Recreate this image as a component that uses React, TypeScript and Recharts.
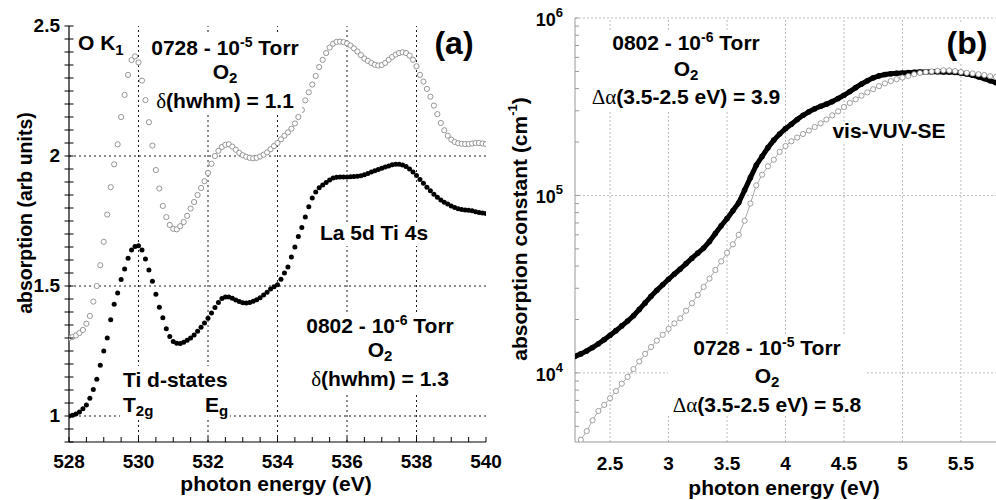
import React from "react";
import { LineChart, Line, XAxis, YAxis, ReferenceLine } from "recharts";

const FONT = '"Liberation Sans", Arial, Helvetica, sans-serif';

// ---- panel (a): O K-edge absorption ----
const xasEnergy = [
  528.0, 528.1, 528.2, 528.3, 528.4, 528.5, 528.6, 528.7, 528.8, 528.9,
  529.0, 529.1, 529.2, 529.3, 529.4, 529.5, 529.6, 529.7, 529.8, 529.9,
  530.0, 530.1, 530.2, 530.3, 530.4, 530.5, 530.6, 530.7, 530.8, 530.9,
  531.0, 531.1, 531.2, 531.3, 531.4, 531.5, 531.6, 531.7, 531.8, 531.9,
  532.0, 532.1, 532.2, 532.3, 532.4, 532.5, 532.6, 532.7, 532.8, 532.9,
  533.0, 533.1, 533.2, 533.3, 533.4, 533.5, 533.6, 533.7, 533.8, 533.9,
  534.0, 534.1, 534.2, 534.3, 534.4, 534.5, 534.6, 534.7, 534.8, 534.9,
  535.0, 535.1, 535.2, 535.3, 535.4, 535.5, 535.6, 535.7, 535.8, 535.9,
  536.0, 536.1, 536.2, 536.3, 536.4, 536.5, 536.6, 536.7, 536.8, 536.9,
  537.0, 537.1, 537.2, 537.3, 537.4, 537.5, 537.6, 537.7, 537.8, 537.9,
  538.0, 538.1, 538.2, 538.3, 538.4, 538.5, 538.6, 538.7, 538.8, 538.9,
  539.0, 539.1, 539.2, 539.3, 539.4, 539.5, 539.6, 539.7, 539.8, 539.9,
  540.0,
];

// 0802 - 1e-6 Torr (filled dots)
const xas0802 = [
  1.000, 1.003, 1.008, 1.015, 1.028, 1.042, 1.068, 1.102, 1.141, 1.195,
  1.250, 1.300, 1.370, 1.430, 1.473, 1.525, 1.565, 1.607, 1.638, 1.652,
  1.655, 1.638, 1.604, 1.562, 1.518, 1.468, 1.418, 1.378, 1.336, 1.306,
  1.287, 1.280, 1.279, 1.284, 1.291, 1.300, 1.312, 1.326, 1.341, 1.358,
  1.376, 1.396, 1.417, 1.437, 1.452, 1.458, 1.458, 1.453, 1.446, 1.440,
  1.436, 1.435, 1.437, 1.441, 1.447, 1.455, 1.465, 1.476, 1.488, 1.497,
  1.505, 1.526, 1.550, 1.573, 1.612, 1.650, 1.690, 1.725, 1.765, 1.805,
  1.838, 1.862, 1.878, 1.888, 1.898, 1.908, 1.915, 1.918, 1.919, 1.919,
  1.919, 1.920, 1.921, 1.922, 1.924, 1.928, 1.933, 1.938, 1.943, 1.948,
  1.953, 1.958, 1.962, 1.966, 1.968, 1.968, 1.965, 1.960, 1.950, 1.938,
  1.925, 1.910, 1.895, 1.880, 1.866, 1.853, 1.841, 1.831, 1.822, 1.815,
  1.808, 1.802, 1.797, 1.794, 1.792, 1.791, 1.789, 1.786, 1.783, 1.781,
  1.779,
];

// 0728 - 1e-5 Torr (open circles)
const xas0728 = [
  1.299, 1.304, 1.310, 1.319, 1.331, 1.355, 1.385, 1.440, 1.500, 1.580,
  1.670, 1.775, 1.880, 1.968, 2.045, 2.150, 2.235, 2.312, 2.369, 2.383,
  2.360, 2.290, 2.215, 2.130, 2.040, 1.946, 1.875, 1.808, 1.765, 1.735,
  1.720, 1.718, 1.730, 1.746, 1.770, 1.798, 1.823, 1.850, 1.877, 1.903,
  1.935, 1.970, 2.000, 2.020, 2.035, 2.043, 2.045, 2.036, 2.024, 2.012,
  2.003, 1.997, 1.993, 1.991, 1.993, 1.998, 2.005, 2.014, 2.026, 2.038,
  2.050, 2.064, 2.078, 2.091, 2.105, 2.125, 2.150, 2.177, 2.214, 2.245,
  2.275, 2.308, 2.342, 2.370, 2.396, 2.417, 2.432, 2.439, 2.440, 2.438,
  2.433, 2.425, 2.414, 2.402, 2.388, 2.375, 2.366, 2.358, 2.351, 2.348,
  2.350, 2.358, 2.370, 2.381, 2.390, 2.396, 2.399, 2.396, 2.386, 2.370,
  2.345, 2.312, 2.286, 2.258, 2.228, 2.194, 2.161, 2.127, 2.099, 2.078,
  2.063, 2.054, 2.049, 2.047, 2.046, 2.046, 2.048, 2.050, 2.050, 2.048,
  2.046,
];

const xasXLabels = [528, 530, 532, 534, 536, 538, 540];
const xasYLabels = [1, 1.5, 2, 2.5];
const xasXGrid = [530, 532, 534, 536, 538];
const xasYGrid = [1, 1.5, 2];

// ---- panel (b): vis-VUV-SE absorption constant ----
const seEnergy = [
  2.2, 2.25, 2.3, 2.35, 2.4, 2.45, 2.5, 2.55, 2.6, 2.65,
  2.7, 2.75, 2.8, 2.85, 2.9, 2.95, 3.0, 3.05, 3.1, 3.15,
  3.2, 3.25, 3.3, 3.35, 3.4, 3.45, 3.5, 3.55, 3.6, 3.65,
  3.7, 3.75, 3.8, 3.85, 3.9, 3.95, 4.0, 4.05, 4.1, 4.15,
  4.2, 4.25, 4.3, 4.35, 4.4, 4.45, 4.5, 4.55, 4.6, 4.65,
  4.7, 4.75, 4.8, 4.85, 4.9, 4.95, 5.0, 5.05, 5.1, 5.15,
  5.2, 5.25, 5.3, 5.35, 5.4, 5.45, 5.5, 5.55, 5.6, 5.65,
  5.7, 5.75, 5.8,
];

const se0802 = [
  12400, 12800, 13300, 13900, 14600, 15400, 16300, 17300, 18400, 19600,
  21000, 22800, 24800, 27000, 29200, 31400, 33700, 36100, 38500, 41300,
  44300, 47300, 50500, 55000, 61000, 67500, 74000, 82000, 91000, 107000,
  126000, 148000, 166000, 186000, 205000, 222000, 238000, 252000, 268000, 283000,
  296000, 308000, 318000, 327000, 338000, 352000, 367000, 385000, 405000, 425000,
  443000, 460000, 472000, 480000, 485000, 488000, 490000, 492000, 494000, 496000,
  497000, 498000, 498000, 497000, 496000, 494000, 490000, 484000, 476000, 466000,
  455000, 443000, 432000,
];

const se0728 = [
  null, 4200, 4700, 5400, 6100, 6600, 7200, 7900, 8700, 9500,
  10500, 11600, 12800, 14000, 15200, 16400, 17700, 19000, 20300, 22400,
  24700, 27500, 30500, 34000, 38000, 42500, 47500, 53000, 60000, 72000,
  90000, 114000, 131000, 146000, 159000, 176000, 190000, 202000, 212000, 222000,
  232000, 243000, 255000, 268000, 283000, 298000, 315000, 332000, 348000, 365000,
  381000, 397000, 413000, 428000, 441000, 452000, 462000, 471000, 482000, 490000,
  496000, 500000, 504000, 507000, 506000, 502000, 496000, 491000, 487000, 482000,
  477000, 470000, 465000,
];

const seXLabels = [2.5, 3, 3.5, 4, 4.5, 5, 5.5];
const seYDecades = [10000, 100000, 1000000];

// tables for recharts
const xasData = xasEnergy.map((e, i) => ({ e, a0802: xas0802[i], a0728: xas0728[i] }));
const seData = seEnergy.map((e, i) => ({ e, a0802: se0802[i], a0728: se0728[i] }));

const xasXTicks: number[] = [];
for (let v = 528; v <= 540.001; v += 0.5) xasXTicks.push(Math.round(v * 10) / 10);
const xasYTicks: number[] = [];
for (let v = 0.9; v <= 2.5001; v += 0.05) xasYTicks.push(Math.round(v * 100) / 100);

const SE_MIN = 4080;
const seYTicks: number[] = [];
[1000, 10000, 100000].forEach((d) => {
  for (let k = 1; k <= 9; k++) if (k * d >= SE_MIN) seYTicks.push(k * d);
});
seYTicks.push(1000000);

const txt = { fontFamily: FONT, fontWeight: "bold" as const, fill: "#000" };
const ANN = 21;

const XasBottomTick = (p: any) => {
  const v = p.payload.value;
  return (
    <g>
      <line x1={p.x} x2={p.x} y1={p.y} y2={p.y - 5} stroke="#000" strokeWidth={1} />
      {xasXLabels.includes(v) && (
        <text x={p.x} y={p.y + 26} textAnchor="middle" fontSize={19} {...txt}>
          {v}
        </text>
      )}
    </g>
  );
};

const XasTopTick = (p: any) => (
  <line x1={p.x} x2={p.x} y1={p.y - 3} y2={p.y + 4} stroke="#000" strokeWidth={1} />
);

const XasLeftTick = (p: any) => {
  const v = p.payload.value;
  return (
    <g>
      <line x1={p.x - 4.5} x2={p.x + 4.5} y1={p.y} y2={p.y} stroke="#000" strokeWidth={1} />
      {xasYLabels.includes(v) && (
        <text x={p.x - 9} y={p.y + 6} textAnchor="end" fontSize={19} {...txt}>
          {v}
        </text>
      )}
    </g>
  );
};

const XasRightTick = (p: any) => (
  <line x1={p.x - 4.5} x2={p.x + 4.5} y1={p.y} y2={p.y} stroke="#000" strokeWidth={1} />
);

const SeBottomTick = (p: any) => (
  <text x={p.x} y={p.y + 28} textAnchor="middle" fontSize={19} {...txt}>
    {p.payload.value}
  </text>
);

const SeLeftTick = (p: any) => {
  const v = p.payload.value;
  const dec = seYDecades.includes(v);
  return (
    <g>
      <line x1={p.x} x2={p.x + 4} y1={p.y} y2={p.y} stroke="#999" strokeWidth={1} />
      {dec && (
        <text x={p.x - 12} y={p.y + 8} textAnchor="end" fontSize={18} {...txt}>
          10
          <tspan dy={-9} fontSize={13}>
            {Math.round(Math.log10(v))}
          </tspan>
        </text>
      )}
    </g>
  );
};

const Sup = ({ s }: { s: string }) => (
  <>
    <tspan dy={-8} fontSize={14}>{s}</tspan>
    <tspan dy={8}>{" "}</tspan>
  </>
);

const Block = ({ x, y, lines }: { x: number; y: number[]; lines: React.ReactNode[] }) => (
  <g>
    {lines.map((l, i) => (
      <text key={i} x={x} y={y[i]} textAnchor="middle" fontSize={ANN} {...txt}>
        {l}
      </text>
    ))}
  </g>
);

const O2 = (
  <>
    O<tspan dy={4} fontSize={15}>2</tspan>
  </>
);

const greek = { fontWeight: "normal" as const, fontFamily: '"Liberation Serif", "DejaVu Serif", serif' };

const Overlay = () => (
  <svg width={996} height={500} style={{ position: "absolute", left: 0, top: 0, pointerEvents: "none" }}>
    {/* white backgrounds behind annotations */}
    <rect x={150} y={34} width={152} height={80} fill="#fff" />
    <rect x={320} y={222} width={109} height={24} fill="#fff" />
    <rect x={120} y={366} width={110} height={53} fill="#fff" />
    <rect x={305} y={313} width={150} height={80} fill="#fff" />
    <rect x={587} y={32} width={198} height={78} fill="#fff" />
    <rect x={831} y={123} width={116} height={19} fill="#fff" />
    <rect x={668} y={336} width={198} height={80} fill="#fff" />
    <rect x={944} y={24} width={47} height={38} fill="#fff" />

    {/* panel (a) */}
    <text x={78} y={50} fontSize={ANN} {...txt}>
      O K<tspan dy={5} fontSize={15}>1</tspan>
    </text>
    <Block
      x={225}
      y={[55, 79, 108]}
      lines={[
        <>0728 - 10<Sup s="-5" />Torr</>,
        O2,
        <><tspan {...greek}>δ</tspan>(hwhm) = 1.1</>,
      ]}
    />
    <text x={454} y={54} textAnchor="middle" fontSize={32} {...txt}>(a)</text>
    <text x={374} y={240} textAnchor="middle" fontSize={ANN} {...txt}>La 5d Ti 4s</text>
    <text x={123} y={387} fontSize={ANN} {...txt}>Ti d-states</text>
    <text x={123} y={412} fontSize={ANN} {...txt}>
      T<tspan dy={4} fontSize={15}>2g</tspan>
    </text>
    <text x={205} y={412} fontSize={ANN} {...txt}>
      E<tspan dy={4} fontSize={15}>g</tspan>
    </text>
    <Block
      x={380}
      y={[333, 357, 386]}
      lines={[
        <>0802 - 10<Sup s="-6" />Torr</>,
        O2,
        <><tspan {...greek}>δ</tspan>(hwhm) = 1.3</>,
      ]}
    />
    <text transform="translate(25,213) rotate(-90)" textAnchor="middle" fontSize={19.5} dominantBaseline="central" {...txt}>
      absorption (arb units)
    </text>
    <text x={276} y={491} textAnchor="middle" fontSize={21} {...txt}>photon energy (eV)</text>

    {/* panel (b) */}
    <Block
      x={686}
      y={[50, 76, 104]}
      lines={[
        <>0802 - 10<Sup s="-6" />Torr</>,
        O2,
        <><tspan {...greek}>Δα</tspan>(3.5-2.5 eV) = 3.9</>,
      ]}
    />
    <text x={967} y={54} textAnchor="middle" fontSize={32} {...txt}>(b)</text>
    <text x={889} y={138} textAnchor="middle" fontSize={ANN} {...txt}>vis-VUV-SE</text>
    <Block
      x={767}
      y={[355, 383, 412]}
      lines={[
        <>0728 - 10<Sup s="-5" />Torr</>,
        O2,
        <><tspan {...greek}>Δα</tspan>(3.5-2.5 eV) = 5.8</>,
      ]}
    />
    <text transform="translate(519,229) rotate(-90)" textAnchor="middle" fontSize={21} dominantBaseline="central" {...txt}>
      absorption constant (cm<tspan dy={-7} fontSize={13}>-1</tspan><tspan dy={7}>)</tspan>
    </text>
    <text x={784} y={495} textAnchor="middle" fontSize={21} {...txt}>photon energy (eV)</text>
  </svg>
);

export default function App() {
  return (
    <div style={{ position: "absolute", left: 0, top: 0, width: 996, height: 500, background: "#fff", overflow: "hidden" }}>
      <div style={{ position: "absolute", left: 0, top: 0 }}>
        <LineChart width={530} height={500} data={xasData} margin={{ top: 26, right: 44, bottom: 0, left: 0 }}>
          <XAxis
            type="number" dataKey="e" domain={[528, 540]} ticks={xasXTicks} interval={0} allowDataOverflow
            height={58} tickSize={0} tickMargin={0} tickLine={false}
            axisLine={{ stroke: "#000", strokeWidth: 1.2 }} tick={XasBottomTick}
          />
          <XAxis
            xAxisId="top" orientation="top" type="number" dataKey="e" domain={[528, 540]} ticks={xasXTicks}
            interval={0} allowDataOverflow height={0} tickSize={0} tickMargin={0} tickLine={false}
            axisLine={{ stroke: "#000", strokeWidth: 1.2 }} tick={XasTopTick}
          />
          <YAxis
            type="number" domain={[0.9, 2.5]} ticks={xasYTicks} interval={0} allowDataOverflow
            width={69} tickSize={0} tickMargin={0} tickLine={false}
            axisLine={{ stroke: "#000", strokeWidth: 1.2 }} tick={XasLeftTick}
          />
          <YAxis
            yAxisId="right" orientation="right" type="number" domain={[0.9, 2.5]} ticks={xasYTicks}
            interval={0} allowDataOverflow width={0} tickSize={0} tickMargin={0} tickLine={false}
            axisLine={{ stroke: "#000", strokeWidth: 1.2 }} tick={XasRightTick}
          />
          {xasXGrid.map((v) => (
            <ReferenceLine key={"x" + v} x={v} stroke="#000" strokeWidth={0.9} strokeDasharray="2 3" />
          ))}
          {xasYGrid.map((v) => (
            <ReferenceLine key={"y" + v} y={v} stroke="#000" strokeWidth={0.9} strokeDasharray="2 3" />
          ))}
          <Line
            dataKey="a0728" stroke="none" isAnimationActive={false}
            dot={{ r: 2.6, fill: "#fff", stroke: "#8a8a8a", strokeWidth: 0.9 }}
          />
          <Line
            dataKey="a0802" stroke="none" isAnimationActive={false}
            dot={{ r: 2.5, fill: "#000", stroke: "#000", strokeWidth: 0 }}
          />
        </LineChart>
      </div>
      <div style={{ position: "absolute", left: 496, top: 0 }}>
        <LineChart width={500} height={500} data={seData} margin={{ top: 18, right: 0, bottom: 0, left: 0 }}>
          <XAxis
            type="number" dataKey="e" domain={[2.2, 5.8]} ticks={seXLabels} interval={0} allowDataOverflow
            height={58} tickSize={0} tickMargin={0} tickLine={false}
            axisLine={{ stroke: "#999", strokeWidth: 1 }} tick={SeBottomTick}
          />
          <YAxis
            type="number" scale="log" domain={[SE_MIN, 1000000]} ticks={seYTicks} interval={0} allowDataOverflow
            width={79} tickSize={0} tickMargin={0} tickLine={false}
            axisLine={{ stroke: "#999", strokeWidth: 1 }} tick={SeLeftTick}
          />
          {seXLabels.map((v) => (
            <ReferenceLine key={"x" + v} x={v} stroke="#bbb" strokeWidth={1} strokeDasharray="2 2" />
          ))}
          {seYDecades.map((v) => (
            <ReferenceLine key={"y" + v} y={v} stroke="#bbb" strokeWidth={1} strokeDasharray="2 2" />
          ))}
          <Line
            dataKey="a0802" stroke="#000" strokeWidth={5} strokeLinejoin="round" isAnimationActive={false}
            dot={{ r: 2.8, fill: "#000", stroke: "none" }}
          />
          <Line
            dataKey="a0728" stroke="#aaa" strokeWidth={1} isAnimationActive={false}
            dot={{ r: 2.6, fill: "#fff", stroke: "#888", strokeWidth: 0.8 }}
          />
        </LineChart>
      </div>
      <Overlay />
    </div>
  );
}
